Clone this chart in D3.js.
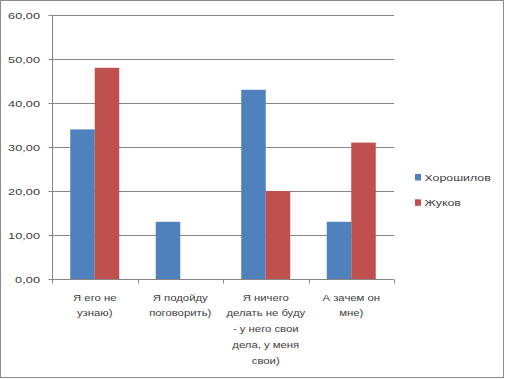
<!DOCTYPE html>
<html><head><meta charset="utf-8">
<script src="https://cdn.jsdelivr.net/npm/d3@7"></script>
<style>body{margin:0;background:#fff;}svg{display:block;font-family:"Liberation Sans",Arial,sans-serif;}</style>
</head><body>
<script>
const categories = [
  ["Я его не", "узнаю)"],
  ["Я подойду", "поговорить)"],
  ["Я ничего", "делать не буду", "- у него свои", "дела, у меня", "свои)"],
  ["А зачем он", "мне)"]
];
const seriesNames = ["Хорошилов", "Жуков"];
const seriesColors = ["#4f81bd", "#c0504d"];
const horoshilov = [34, 13, 43, 13];
const zhukov = [48, 0, 20, 31];
const yTicks = [0, 10, 20, 30, 40, 50, 60];

const W = 505, H = 379;
const m = {left: 52, right: 394, top: 15, bottom: 279};
const svg = d3.select("body").append("svg").attr("width", W).attr("height", H);
svg.append("rect").attr("x", 0.5).attr("y", 0.5).attr("width", W - 2).attr("height", H - 2)
  .attr("fill", "#fff").attr("stroke", "#8c8c8c").attr("stroke-width", 1);

const idx = categories.map((d, i) => i);
const x = d3.scaleBand().domain(idx).range([m.left, m.right]).paddingInner(0).paddingOuter(0);
const x1 = d3.scaleBand().domain([0, 1]).range([0, x.bandwidth()]).paddingOuter(0.745).paddingInner(0);
const y = d3.scaleLinear().domain([0, 60]).range([m.bottom, m.top]);

// gridlines
svg.append("g").selectAll("line").data(yTicks.slice(1)).join("line")
  .attr("x1", m.left).attr("x2", m.right)
  .attr("y1", d => Math.round(y(d)) + 0.5).attr("y2", d => Math.round(y(d)) + 0.5)
  .attr("stroke", "#868686").attr("stroke-width", 1);

// y axis
const yAxis = svg.append("g").attr("transform", `translate(${m.left + 0.5},0)`)
  .call(d3.axisLeft(y).tickValues(yTicks).tickSize(4).tickPadding(9)
    .tickFormat(d => d3.format(".2f")(d).replace(".", ",")));
yAxis.select(".domain").attr("stroke", "#868686").attr("d", `M0,${m.top}V${m.bottom}`);
yAxis.selectAll(".tick line").attr("stroke", "#868686");
yAxis.selectAll(".tick").attr("transform", d => `translate(0,${Math.round(y(d)) + 0.5})`);
yAxis.selectAll("text").attr("x", 0).attr("dy", "0.35em")
  .attr("transform", "translate(-12.5,0) scale(1.42,1)")
  .attr("fill", "#404040").style("font-size", "9px").style("font-family", "'Liberation Sans',Arial,sans-serif");

// bars
const series = [horoshilov, zhukov];
series.forEach((vals, s) => {
  svg.append("g").selectAll("rect").data(vals).join("rect")
    .attr("x", (d, i) => x(i) + x1(s))
    .attr("width", x1.bandwidth())
    .attr("y", d => y(d))
    .attr("height", d => y(0) - y(d))
    .attr("fill", seriesColors[s]);
});

// x axis
const xAxisY = Math.round(y(0)) + 0.5;
svg.append("line").attr("x1", m.left).attr("x2", m.right).attr("y1", xAxisY).attr("y2", xAxisY)
  .attr("stroke", "#868686");
const bounds = idx.map(i => x(i)).concat([m.right]);
svg.append("g").selectAll("line").data(bounds).join("line")
  .attr("x1", d => Math.round(d) + 0.5).attr("x2", d => Math.round(d) + 0.5)
  .attr("y1", xAxisY).attr("y2", xAxisY + 4).attr("stroke", "#868686");

const lab = svg.append("g").selectAll("text").data(categories).join("text")
  .attr("text-anchor", "middle").attr("fill", "#404040").style("font-size", "9.5px")
  .attr("transform", (d, i) => `translate(${x(i) + x.bandwidth() / 2},300.5) scale(1.19,1)`);
lab.selectAll("tspan").data(d => d).join("tspan")
  .attr("x", 0)
  .attr("dy", (d, j) => j === 0 ? 0 : 16)
  .text(d => d);

// legend
const leg = svg.append("g").selectAll("g").data(seriesNames).join("g")
  .attr("transform", (d, i) => `translate(415,${174 + i * 25.3})`);
leg.append("rect").attr("width", 6).attr("height", 6.5).attr("fill", (d, i) => seriesColors[i]);
leg.append("text").attr("fill", "#404040").style("font-size", "9.5px")
  .attr("transform", "translate(9.5,6.8) scale(1.3,1)").text(d => d);
</script>
</body></html>
